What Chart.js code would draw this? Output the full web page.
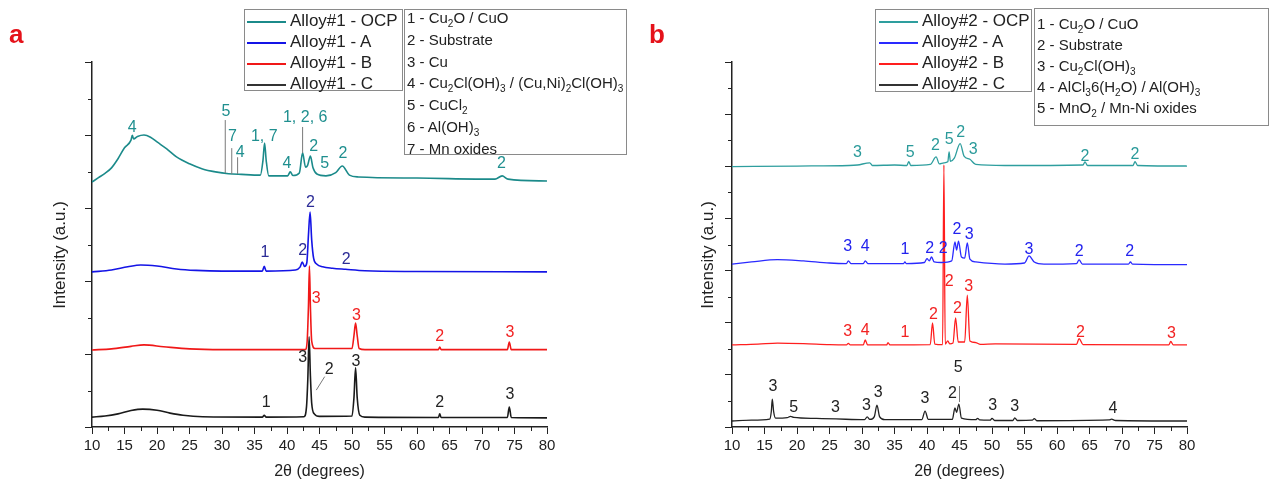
<!DOCTYPE html>
<html>
<head>
<meta charset="utf-8">
<script src="https://cdn.jsdelivr.net/npm/chart.js@4.4.1/dist/chart.umd.min.js"></script>
<style>
body { margin: 0; background: #fff; width: 1271px; height: 489px; position: relative; overflow: hidden;
       font-family: "Liberation Sans", Arial, sans-serif; color: #222; }
canvas { position: absolute; top: 0; }
#chartA { left: 0; }
#chartB { left: 640px; }
.tag { position: absolute; top: 21px; color: #e5121a; font-weight: bold; font-size: 26px; line-height: 26px; }
.box { position: absolute; border: 1px solid #8a8a8a; background: #fff; box-sizing: border-box; }
.lrow { height: 21px; line-height: 21px; font-size: 17px; white-space: nowrap; }
.lrow span { display: inline-block; width: 39px; height: 0; vertical-align: middle; margin-right: 4px; }
.krow { height: 21.8px; line-height: 21.8px; font-size: 15px; white-space: nowrap; padding-left: 2px; position: relative; }
#keyA .krow { top: -3px; }
#keyB .krow { height: 21px; line-height: 21px; }
sub { font-size: 10px; vertical-align: -4px; line-height: 0; }
</style>
</head>
<body>
<canvas id="chartA" width="640" height="489"></canvas>
<canvas id="chartB" width="631" height="489"></canvas>
<div class="tag" style="left:9px">a</div>
<div class="tag" style="left:649px">b</div>
<div class="box" id="legA" style="left:244px;top:9px;width:159px;height:82px"></div>
<div class="box" id="keyA" style="left:404px;top:9px;width:223px;height:146px"></div>
<div class="box" id="legB" style="left:875px;top:9px;width:157px;height:83px"></div>
<div class="box" id="keyB" style="left:1034px;top:8px;width:235px;height:118px;padding-top:4px"></div>
<script>
// ---- text ----
const xTitle = '2θ (degrees)';
const yTitle = 'Intensity (a.u.)';
const namesA = ['Alloy#1 - OCP', 'Alloy#1 - A', 'Alloy#1 - B', 'Alloy#1 - C'];
const namesB = ['Alloy#2 - OCP', 'Alloy#2 - A', 'Alloy#2 - B', 'Alloy#2 - C'];
const phasesA = ['1 - Cu<sub>2</sub>O / CuO', '2 - Substrate', '3 - Cu',
  '4 - Cu<sub>2</sub>Cl(OH)<sub>3</sub> / (Cu,Ni)<sub>2</sub>Cl(OH)<sub>3</sub>',
  '5 - CuCl<sub>2</sub>', '6 - Al(OH)<sub>3</sub>', '7 - Mn oxides'];
const phasesB = ['1 - Cu<sub>2</sub>O / CuO', '2 - Substrate', '3 - Cu<sub>2</sub>Cl(OH)<sub>3</sub>',
  '4 - AlCl<sub>3</sub>6(H<sub>2</sub>O) / Al(OH)<sub>3</sub>', '5 - MnO<sub>2</sub> / Mn-Ni oxides'];

// ---- panel a patterns: [2theta, intensity (offset, a.u.)] ----
const aOcp = [[10,67.1],[11,68.3],[12,69.5],[13,71.0],[14,73.5],[15,76.5],[16,78.6],[16.2,79.9],[16.4,78.9],[17,79.6],[18,80.0],[19,79.4],[20,78.1],[21.5,76.2],[23,74.0],[25,72.1],[27,70.7],[29,69.9],[31,69.4],[33,69.2],[35.9,69.0],[36.3,73.0],[36.55,77.8],[36.8,73.0],[37.2,68.8],[40.1,68.8],[40.5,69.9],[40.9,68.9],[41.9,69.6],[42.4,75.1],[42.85,71.2],[43.15,71.6],[43.6,74.2],[44.0,71.0],[44.6,69.3],[46,68.8],[47.5,69.7],[48.5,71.5],[49.6,69.0],[51,68.5],[60,68.2],[72,67.9],[73.1,68.8],[74,67.9],[80,67.4]];
const aA = [[10,42.5],[13,43.0],[15.5,43.9],[17.5,44.4],[20,44.1],[23,43.3],[26,42.9],[30,42.7],[36.2,42.7],[36.5,44.0],[36.8,42.7],[41.3,43.0],[42.0,43.8],[42.35,45.2],[42.7,44.0],[43.05,45.0],[43.3,52.6],[43.55,58.9],[43.8,51.2],[44.1,46.2],[44.6,44.6],[45.5,43.9],[47,43.5],[49,43.2],[52,42.8],[60,42.6],[80,42.5]];
const aB = [[10,21.1],[13,21.4],[16,22.1],[18,22.5],[21,22.0],[25,21.4],[30,21.2],[42.8,21.2],[43.1,23.5],[43.3,33],[43.45,44.1],[43.6,33],[43.8,23.5],[44.3,21.5],[50.0,21.5],[50.3,25],[50.55,28.5],[50.8,25],[51.1,21.5],[52,21.2],[63.3,21.2],[63.5,21.9],[63.7,21.2],[73.9,21.2],[74.2,23.3],[74.5,21.2],[80,21.2]];
const aC = [[10,2.7],[12,3.0],[14,3.6],[16,4.5],[17.8,4.9],[20,4.6],[22,3.8],[24,3.2],[27,2.8],[36.2,2.7],[36.5,3.2],[36.8,2.7],[42.6,2.8],[43.0,5.5],[43.2,13],[43.4,24.7],[43.6,14],[43.8,6.5],[44.2,3.6],[45,2.9],[50.0,3.0],[50.3,8],[50.55,16.2],[50.8,8],[51.2,3.2],[52,2.7],[63.3,2.6],[63.5,3.6],[63.7,2.6],[73.9,2.6],[74.2,5.5],[74.5,2.6],[80,2.5]];

// ---- panel b patterns ----
const bOcp = [[10,99.9],[20,100.1],[28,100.3],[29.3,100.5],[31.2,101.3],[31.6,100.3],[35,100.5],[36.9,100.3],[37.2,101.8],[37.5,100.3],[40.5,100.7],[41.4,103.6],[41.9,100.9],[42.6,101.3],[43.2,101.7],[43.4,105.5],[43.6,101.9],[44.2,103.1],[45.1,108.7],[45.7,103.9],[46.6,102.7],[47.5,100.7],[52,100.3],[64.0,100.5],[64.3,101.7],[64.7,100.3],[71.7,100.3],[72.0,101.8],[72.4,100.3],[80,100.1]];
const bA = [[10,62.5],[13,63.3],[17,64.2],[21,63.7],[25,62.9],[27.6,62.7],[27.9,63.7],[28.3,62.7],[30.2,62.7],[30.5,63.7],[30.9,62.7],[36.4,62.7],[36.6,63.3],[36.8,62.7],[39.6,63.1],[40.0,64.6],[40.35,63.7],[40.7,65.2],[41.1,63.3],[42.2,63.1],[43.8,63.7],[44.3,71.0],[44.55,67.9],[44.85,71.3],[45.3,65.2],[45.8,64.8],[46.2,70.6],[46.6,64.4],[47.5,63.3],[52,62.5],[55.0,62.9],[55.7,65.6],[56.5,63.3],[58,62.5],[63.0,62.7],[63.4,64.1],[63.9,62.5],[71.0,62.5],[71.3,63.3],[71.6,62.5],[80,62.3]];
const bB = [[10,31.5],[14,31.8],[17,32.2],[21,32.0],[25,31.6],[27.6,31.5],[27.9,32.1],[28.2,31.5],[30.2,31.5],[30.5,33.4],[30.85,31.5],[33.8,31.5],[34.0,32.4],[34.3,31.5],[40.5,31.6],[40.85,39.9],[41.2,31.8],[42.4,31.6],[42.6,100.5],[42.8,31.8],[43.2,33.0],[43.5,31.9],[44.0,32.2],[44.4,41.8],[44.8,32.6],[45.8,32.6],[46.2,50.6],[46.6,33.0],[47.5,32.4],[48.2,31.7],[50.5,31.9],[63.0,31.7],[63.4,33.9],[64.0,31.6],[77.2,31.5],[77.5,32.8],[77.9,31.5],[80,31.5]];
const bC = [[10,2.3],[13,2.6],[15.8,3.0],[16.05,6],[16.2,10.7],[16.4,6],[16.7,3.4],[18.5,3.6],[19,4.1],[19.5,3.7],[23,3.3],[26,3.1],[30.4,2.8],[30.8,3.9],[31.2,2.9],[31.9,4.0],[32.3,8.4],[32.7,4.0],[33.5,2.8],[39.2,2.8],[39.7,6.1],[40.2,2.9],[43.9,2.9],[44.3,7.3],[44.55,5.6],[44.9,8.8],[45.3,3.4],[47.5,2.8],[47.8,3.3],[48.1,2.7],[49.7,2.6],[50.0,3.3],[50.4,2.5],[53.2,2.5],[53.5,3.5],[53.9,2.5],[56.2,2.6],[56.5,3.2],[56.9,2.4],[68,2.7],[68.4,3.0],[69,2.5],[80,2.3]];

// ---- peak labels: [2theta, intensity, text] ----
const aOcpLabels = [[16.2,81.9,'4'],[30.6,86.3,'5'],[31.6,79.5,'7'],[32.8,75.3,'4'],[36.5,79.5,'1, 7'],[42.8,84.9,'1, 2, 6'],[40.0,72.1,'4'],[44.1,76.7,'2'],[45.8,72.1,'5'],[48.6,74.8,'2'],[73.0,72.3,'2']];
const aALabels = [[36.6,47.7,'1'],[42.4,48.2,'2'],[43.6,61.5,'2'],[49.1,46.0,'2']];
const aBLabels = [[44.5,35.3,'3'],[50.7,30.5,'3'],[63.5,24.7,'2'],[74.3,26.0,'3']];
const aCLabels = [[42.4,19.1,'3'],[46.5,15.6,'2'],[50.6,17.9,'3'],[36.8,6.6,'1'],[63.5,6.6,'2'],[74.3,8.8,'3']];
const aLeaders = [[30.5,84.1,30.5,69.6],[31.5,76.4,31.5,69.3],[32.4,73.9,32.4,69.3],[42.4,82.2,42.4,75.1],[44.5,10.1,45.8,13.8]];

const bOcpLabels = [[29.3,105.2,'3'],[37.4,105.2,'5'],[41.3,107.8,'2'],[43.4,110.1,'5'],[45.2,112.8,'2'],[47.1,106.3,'3'],[64.3,103.7,'2'],[72.0,104.3,'2']];
const bALabels = [[27.8,69.2,'3'],[30.5,69.2,'4'],[36.6,67.9,'1'],[40.4,68.5,'2'],[42.5,68.5,'2'],[44.6,75.8,'2'],[46.5,73.9,'3'],[55.7,67.9,'3'],[63.4,67.2,'2'],[71.2,67.2,'2']];
const bBLabels = [[27.8,36.6,'3'],[30.5,36.9,'4'],[36.6,36.2,'1'],[41.0,43.3,'2'],[43.4,55.7,'2'],[44.7,45.5,'2'],[46.4,53.8,'3'],[63.6,36.2,'2'],[77.6,35.9,'3']];
const bCLabels = [[16.3,15.5,'3'],[19.5,7.4,'5'],[25.9,7.4,'3'],[30.7,8.1,'3'],[32.5,13.2,'3'],[39.7,11.0,'3'],[43.9,12.7,'2'],[44.8,22.9,'5'],[50.1,8.4,'3'],[53.5,7.8,'3'],[68.6,7.2,'4']];
const bLeaders = [[45.0,15.7,45.0,9.6]];

const FONT = '"Liberation Sans", Arial, sans-serif';
Chart.defaults.font.family = FONT;

function pts(arr) { return arr.map(p => ({ x: p[0], y: p[1] })); }

function buildPanel(id, o) {
  const decor = {
    id: 'decor',
    afterDatasetsDraw(chart) {
      const { ctx, chartArea: ca, scales: { x, y } } = chart;
      ctx.save();
      ctx.strokeStyle = '#7a7a7a';
      ctx.lineWidth = 1;
      o.leaders.forEach(l => {
        ctx.beginPath();
        ctx.moveTo(x.getPixelForValue(l[0]), y.getPixelForValue(l[1]));
        ctx.lineTo(x.getPixelForValue(l[2]), y.getPixelForValue(l[3]));
        ctx.stroke();
      });
      ctx.font = '16px ' + FONT;
      ctx.textAlign = 'center';
      ctx.textBaseline = 'middle';
      o.labels.forEach((set, i) => {
        ctx.fillStyle = o.labelColors[i];
        set.forEach(p => ctx.fillText(p[2], x.getPixelForValue(p[0]), y.getPixelForValue(p[1])));
      });
      // minor ticks
      ctx.strokeStyle = '#222';
      ctx.beginPath();
      for (let v = 12.5; v < 80; v += 5) {
        const px = Math.round(x.getPixelForValue(v)) + 0.5;
        ctx.moveTo(px, ca.bottom); ctx.lineTo(px, ca.bottom + 4);
      }
      for (let v = 10; v < o.yMax; v += 20) {
        const py = Math.round(y.getPixelForValue(v)) + 0.5;
        ctx.moveTo(ca.left, py); ctx.lineTo(ca.left - 4, py);
      }
      ctx.stroke();
      // axis titles
      ctx.fillStyle = '#222';
      ctx.font = '16px ' + FONT;
      ctx.fillText(xTitle, (ca.left + ca.right) / 2, 472);
      ctx.translate(o.yTitleX, 255);
      ctx.rotate(-Math.PI / 2);
      ctx.font = '17px ' + FONT;
      ctx.fillText(yTitle, 0, 0);
      ctx.restore();
    }
  };

  new Chart(document.getElementById(id), {
    type: 'line',
    data: {
      datasets: o.series.map((s, i) => ({
        label: o.names[i],
        data: pts(s),
        borderColor: o.colors[i],
        borderWidth: o.lineWidth,
        pointRadius: 0,
        fill: false,
        cubicInterpolationMode: 'monotone'
      }))
    },
    options: {
      responsive: false,
      devicePixelRatio: 1,
      animation: false,
      layout: { padding: { left: 0, right: o.padRight, top: 62, bottom: 0 } },
      plugins: { legend: { display: false }, tooltip: { enabled: false } },
      scales: {
        x: {
          type: 'linear', min: 10, max: 80,
          ticks: { stepSize: 5, color: '#222', font: { size: 15 }, padding: 3, autoSkip: false, maxRotation: 0 },
          grid: { display: true, drawOnChartArea: false, drawTicks: true, tickLength: 7, tickColor: '#222', tickWidth: 1 },
          border: { display: true, color: '#222', width: 1.5 },
          afterFit: s => { s.height = 62; }
        },
        y: {
          min: 0, max: o.yMax,
          ticks: { display: false, stepSize: 20 },
          grid: { display: true, drawOnChartArea: false, drawTicks: true, tickLength: 7, tickColor: '#222', tickWidth: 1 },
          border: { display: true, color: '#222', width: 1.5 },
          afterFit: s => { s.width = 92; }
        }
      }
    },
    plugins: [decor]
  });
}

buildPanel('chartA', {
  series: [aOcp, aA, aB, aC],
  names: namesA,
  colors: ['#1b8a8a', '#1414e6', '#f01818', '#1a1a1a'],
  labels: [aOcpLabels, aALabels, aBLabels, aCLabels],
  labelColors: ['#1f8f8f', '#2b2b96', '#f22222', '#222'],
  leaders: aLeaders,
  lineWidth: 1.6,
  yMax: 100,
  padRight: 93,
  yTitleX: 60
});

buildPanel('chartB', {
  series: [bOcp, bA, bB, bC],
  names: namesB,
  colors: ['#2e9e9e', '#2a2aff', '#ff1e1e', '#222'],
  labels: [bOcpLabels, bALabels, bBLabels, bCLabels],
  labelColors: ['#2a9a9a', '#2222ee', '#f22222', '#222'],
  leaders: bLeaders,
  lineWidth: 1.3,
  yMax: 140,
  padRight: 84,
  yTitleX: 68
});

// legends and phase keys
function fillLegend(elId, names, colors, ml) {
  const el = document.getElementById(elId);
  names.forEach((n, i) => {
    const r = document.createElement('div');
    r.className = 'lrow';
    r.innerHTML = '<span style="border-top:2px solid ' + colors[i] + ';margin-left:' + ml + 'px"></span>' + n;
    el.appendChild(r);
  });
}
function fillKey(elId, rows) {
  const el = document.getElementById(elId);
  rows.forEach(t => {
    const r = document.createElement('div');
    r.className = 'krow';
    r.innerHTML = t;
    el.appendChild(r);
  });
}
fillLegend('legA', namesA, ['#1b8a8a', '#1414e6', '#f01818', '#333'], 2);
fillLegend('legB', namesB, ['#2e9e9e', '#2a2aff', '#ff1e1e', '#333'], 3);
fillKey('keyA', phasesA);
fillKey('keyB', phasesB);
</script>
</body>
</html>
